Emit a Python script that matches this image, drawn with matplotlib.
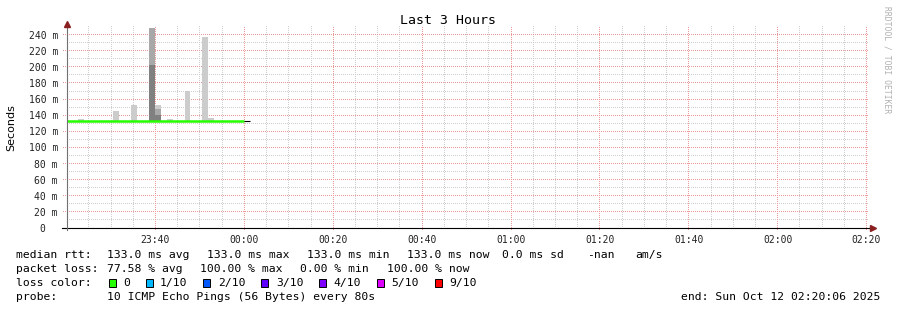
import matplotlib
matplotlib.use("Agg")
import matplotlib.pyplot as plt
from matplotlib.patches import Rectangle
import numpy as np

# ---------------- data ----------------
title = "Last 3 Hours"
y_label = "Seconds"
x_tick_labels = ["23:40", "00:00", "00:20", "00:40", "01:00", "01:20", "01:40", "02:00", "02:20"]
x_tick_minutes = [19.9, 39.9, 59.9, 79.9, 99.9, 119.9, 139.9, 159.9, 179.9]  # minutes after 23:20:06
y_tick_values = [0, 20, 40, 60, 80, 100, 120, 140, 160, 180, 200, 220, 240]

step_min = 80 / 60.0  # probe step (80 s)

# median rtt segments (minutes after window start), value in ms, loss count
median_start = [0.0, 39.78]
median_end = [39.78, 41.11]
median_ms = [133.0, 132.5]
median_loss = [0, 10]

# smoke bins: start time, tops of dark / mid / light layers (ms), base at median
smoke_start = [2.45, 10.45, 14.45, 18.45, 19.78, 22.45, 26.45, 30.45, 31.78]
smoke_base = [133.0, 133.0, 133.0, 133.0, 133.0, 133.0, 133.0, 133.0, 133.0]
smoke_dark = [133.0, 133.0, 133.0, 202.5, 140.4, 133.0, 133.0, 133.0, 133.0]
smoke_mid = [133.0, 133.0, 133.0, 248.0, 147.8, 133.0, 133.0, 133.0, 133.0]
smoke_light = [135.4, 145.7, 152.8, 248.0, 152.8, 135.4, 170.0, 237.0, 136.6]

legend_rtt = [("median rtt:", 16), ("133.0 ms avg", 106.7), ("133.0 ms max", 207.3),
              ("133.0 ms min", 306.7), ("133.0 ms now", 406.7), ("0.0 ms sd", 501.7),
              ("-nan", 586.7), ("am/s", 635)]
legend_loss = [("packet loss:", 16), ("77.58 % avg", 107.3), ("100.00 % max", 200),
               ("0.00 % min", 300), ("100.00 % now", 386.7)]
loss_labels = ["0", "1/10", "2/10", "3/10", "4/10", "5/10", "9/10"]
loss_colors = ["#26ff00", "#00b8ff", "#0059ff", "#5e00ff", "#7e00ff", "#dd00ff", "#ff0000"]
probe_text = "10 ICMP Echo Pings (56 Bytes) every 80s"
end_text = "end: Sun Oct 12 02:20:06 2025"
watermark = "RRDTOOL / TOBI OETIKER"

# ---------------- layout ----------------
W, H = 897, 310
fig = plt.figure(figsize=(W / 100, H / 100), dpi=100)
fig.patch.set_facecolor("white")
L, R, T, B = 67, 867, 26.6, 228
ax = fig.add_axes([L / W, 1 - B / H, (R - L) / W, (B - T) / H])
ax.set_xlim(0, 180)
ax.set_ylim(0, 250)
ax.set_facecolor("none")
ax.set_zorder(1)
for s in ax.spines.values():
    s.set_visible(False)

mono = "DejaVu Sans Mono"

def fx(px):
    return px / W

def fy(py):
    return 1 - py / H

# ticks
ax.set_xticks(x_tick_minutes)
ax.set_xticklabels(x_tick_labels, fontfamily=mono, fontsize=7, color="#222222")
ax.set_yticks(y_tick_values)
ax.set_yticklabels(["0  "] + [f"{v} m" for v in y_tick_values[1:]], fontfamily=mono,
                   fontsize=7, color="#222222")
ax.tick_params(axis="both", which="both", length=0)
ax.tick_params(axis="x", which="major", pad=5)
ax.tick_params(axis="y", which="major", pad=6.5)

# dotted pixel grid (rrdtool style), drawn as a pixel image behind the axes
minor_x = [m for m in np.arange(4.9, 180, 5.0) if all(abs(m - t) > 0.5 for t in x_tick_minutes)]
minor_y = list(np.arange(10, 240, 20))
img = np.ones((H, W, 4))
img[..., 3] = 0.0
minor_col = np.array([0.81, 0.81, 0.81, 1.0])
major_col = np.array([0.94, 0.60, 0.60, 1.0])
x0_pix, y0_pix = ax.transData.transform((0, 0))
x1_pix, y1_pix = ax.transData.transform((180, 250))
c0, c1 = int(np.floor(x0_pix)), int(np.floor(x1_pix))
r0, r1 = int(np.floor(y0_pix)), int(np.floor(y1_pix))

def vline(xv, col, extend=0):
    c = int(np.floor(ax.transData.transform((xv, 0))[0]))
    for r in range(r0 + 1 - extend, r1 + 1, 2):
        img[r, c] = col

def hline(yv, col, extend=0):
    r = int(np.floor(ax.transData.transform((0, yv))[1]))
    for c in range(c0 - extend, c1 + 1, 2):
        img[r, c] = col

for xv in minor_x:
    vline(xv, minor_col)
for yv in minor_y:
    hline(yv, minor_col)
for xv in x_tick_minutes:
    vline(xv, major_col, extend=3)
for yv in y_tick_values[1:]:
    hline(yv, major_col, extend=4)
fig.figimage(img, xo=0, yo=0, origin="lower", zorder=0)

# smoke
w = step_min
sb = np.array(smoke_base); sd = np.array(smoke_dark); sm = np.array(smoke_mid); sl = np.array(smoke_light)
ax.bar(smoke_start, sd - sb, bottom=sb, width=w, align="edge", color="#808080", linewidth=0, zorder=2)
ax.bar(smoke_start, sm - sd, bottom=sd, width=w, align="edge", color="#a8a8a8", linewidth=0, zorder=2)
ax.bar(smoke_start, sl - sm, bottom=sm, width=w, align="edge", color="#cccccc", linewidth=0, zorder=2)

# median line
for s0, s1, v, lo in zip(median_start, median_end, median_ms, median_loss):
    if lo == 0:
        ax.hlines(v, s0, s1, color="#26ff00", linewidth=1.8, zorder=3)
    else:
        ax.hlines(v, s0, s1, color="#000000", linewidth=0.8, zorder=3)

# axes lines and arrows
ax.plot([-1.2, 180.6], [0, 0], color="black", linewidth=0.8, clip_on=False, zorder=4)
ax.plot([0, 0], [-2, 250], color="#707070", linewidth=0.8, clip_on=False, zorder=4)
ax.plot([181.4], [0], marker=">", color="#8b2020", markersize=4.5, clip_on=False, zorder=5)
ax.plot([0], [253.5], marker="^", color="#8b2020", markersize=4.5, clip_on=False, zorder=5)

# titles
fig.text(fx(448), fy(20), title, fontfamily=mono, fontsize=9.5, ha="center", va="center", color="black")
fig.text(fx(11), fy(127.5), y_label, fontfamily="DejaVu Sans", fontsize=8, rotation=90,
         ha="center", va="center", color="black")
fig.text(fx(886.5), fy(60), watermark, fontfamily=mono, fontsize=5.8, rotation=270,
         ha="center", va="center", color="#b0b0b0")

# legend
fs = 8.2
for txt, x in legend_rtt:
    fig.text(fx(x), fy(258.3), txt, fontfamily=mono, fontsize=fs, ha="left", va="baseline")
for txt, x in legend_loss:
    fig.text(fx(x), fy(272.3), txt, fontfamily=mono, fontsize=fs, ha="left", va="baseline")
fig.text(fx(16), fy(286.3), "loss color:", fontfamily=mono, fontsize=fs, ha="left", va="baseline")
box_x = [108.7, 145.7, 203.3, 261.3, 319.3, 377.3, 435.0]
lab_x = [123.3, 160.0, 217.7, 276.0, 333.3, 391.7, 449.5]
for bx, lx, lab, col in zip(box_x, lab_x, loss_labels, loss_colors):
    fig.add_artist(Rectangle((fx(bx), fy(286.5)), 7 / W, 8 / H, transform=fig.transFigure,
                             facecolor=col, edgecolor="black", linewidth=0.7))
    fig.text(fx(lx), fy(286.3), lab, fontfamily=mono, fontsize=fs, ha="left", va="baseline")
fig.text(fx(16), fy(300.3), "probe:", fontfamily=mono, fontsize=fs, ha="left", va="baseline")
fig.text(fx(107.3), fy(300.3), probe_text, fontfamily=mono, fontsize=fs, ha="left", va="baseline")
fig.text(fx(880.5), fy(300.3), end_text, fontfamily=mono, fontsize=fs, ha="right", va="baseline")

fig.savefig("out.png", dpi=100, facecolor="white")
